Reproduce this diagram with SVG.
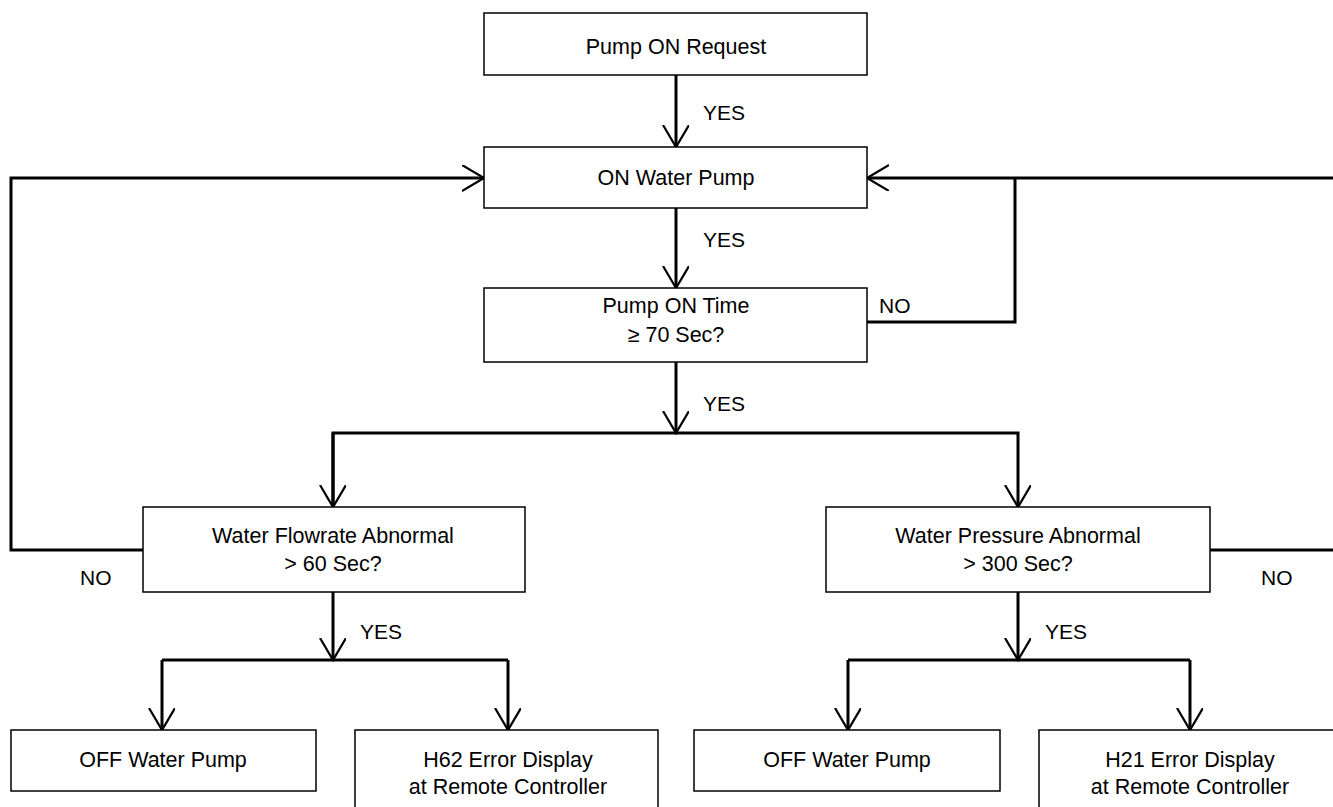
<svg xmlns="http://www.w3.org/2000/svg" width="1333" height="807" viewBox="0 0 1333 807">
<style>
.box{fill:#fff;stroke:#000;stroke-width:1.5}
.t{font-family:"Liberation Sans",Arial,sans-serif;font-size:21.5px;fill:#000;text-anchor:middle}
.l{font-family:"Liberation Sans",Arial,sans-serif;font-size:21px;fill:#000}
.c{fill:none;stroke:#000;stroke-width:3}
</style>
<defs>
<marker id="ah" markerUnits="userSpaceOnUse" markerWidth="30" markerHeight="30" refX="22" refY="13" orient="auto" viewBox="0 0 30 30">
<path d="M0,0 L22,13 L0,26" fill="none" stroke="#000" stroke-width="2.2"/>
</marker>
</defs>
<rect width="1333" height="807" fill="#fff"/>
<g id="connectors">
<path class="c" d="M676,75 V147" marker-end="url(#ah)"/>
<path class="c" d="M676,208 V288" marker-end="url(#ah)"/>
<path class="c" d="M676,362 V433" marker-end="url(#ah)"/>
<path class="c" d="M333,507 V433 H1018 V507" marker-end="url(#ah)"/>
<path class="c" d="M333,433 V507" marker-end="url(#ah)"/>
<path class="c" d="M143,550 H11 V178 H484" marker-end="url(#ah)"/>
<path class="c" d="M1333,178 H867" marker-end="url(#ah)"/>
<path class="c" d="M867,322 H1015 V178"/>
<path class="c" d="M1210,550 H1333"/>
<path class="c" d="M333,592 V660" marker-end="url(#ah)"/>
<path class="c" d="M162,660 H508"/>
<path class="c" d="M162,660 V730" marker-end="url(#ah)"/>
<path class="c" d="M508,660 V730" marker-end="url(#ah)"/>
<path class="c" d="M1018,592 V660" marker-end="url(#ah)"/>
<path class="c" d="M848,660 H1190"/>
<path class="c" d="M848,660 V730" marker-end="url(#ah)"/>
<path class="c" d="M1190,660 V730" marker-end="url(#ah)"/>
<text class="l" x="703" y="120">YES</text>
<text class="l" x="703" y="247">YES</text>
<text class="l" x="703" y="411">YES</text>
<text class="l" x="879" y="313">NO</text>
<text class="l" x="80" y="585">NO</text>
<text class="l" x="1261" y="585">NO</text>
<text class="l" x="360" y="639">YES</text>
<text class="l" x="1045" y="639">YES</text>
</g>
<g id="n1"><rect class="box" x="484" y="13" width="383" height="62"/><text class="t" x="676" y="54">Pump ON Request</text></g>
<g id="n2"><rect class="box" x="484" y="147" width="383" height="61"/><text class="t" x="676" y="185">ON Water Pump</text></g>
<g id="n3"><rect class="box" x="484" y="288" width="383" height="74"/><text class="t" x="676" y="313">Pump ON Time</text><text class="t" x="676" y="342">≥ 70 Sec?</text></g>
<g id="n4"><rect class="box" x="143" y="507" width="382" height="85"/><text class="t" x="333" y="543">Water Flowrate Abnormal</text><text class="t" x="333" y="571">&gt; 60 Sec?</text></g>
<g id="n5"><rect class="box" x="826" y="507" width="384" height="85"/><text class="t" x="1018" y="543">Water Pressure Abnormal</text><text class="t" x="1018" y="571">&gt; 300 Sec?</text></g>
<g id="n6"><rect class="box" x="11" y="730" width="305" height="61"/><text class="t" x="163" y="767">OFF Water Pump</text></g>
<g id="n7"><rect class="box" x="355" y="730" width="303" height="90"/><text class="t" x="508" y="767">H62 Error Display</text><text class="t" x="508" y="794">at Remote Controller</text></g>
<g id="n8"><rect class="box" x="694" y="730" width="306" height="61"/><text class="t" x="847" y="767">OFF Water Pump</text></g>
<g id="n9"><rect class="box" x="1039" y="730" width="310" height="90"/><text class="t" x="1190" y="767">H21 Error Display</text><text class="t" x="1190" y="794">at Remote Controller</text></g>
</svg>
